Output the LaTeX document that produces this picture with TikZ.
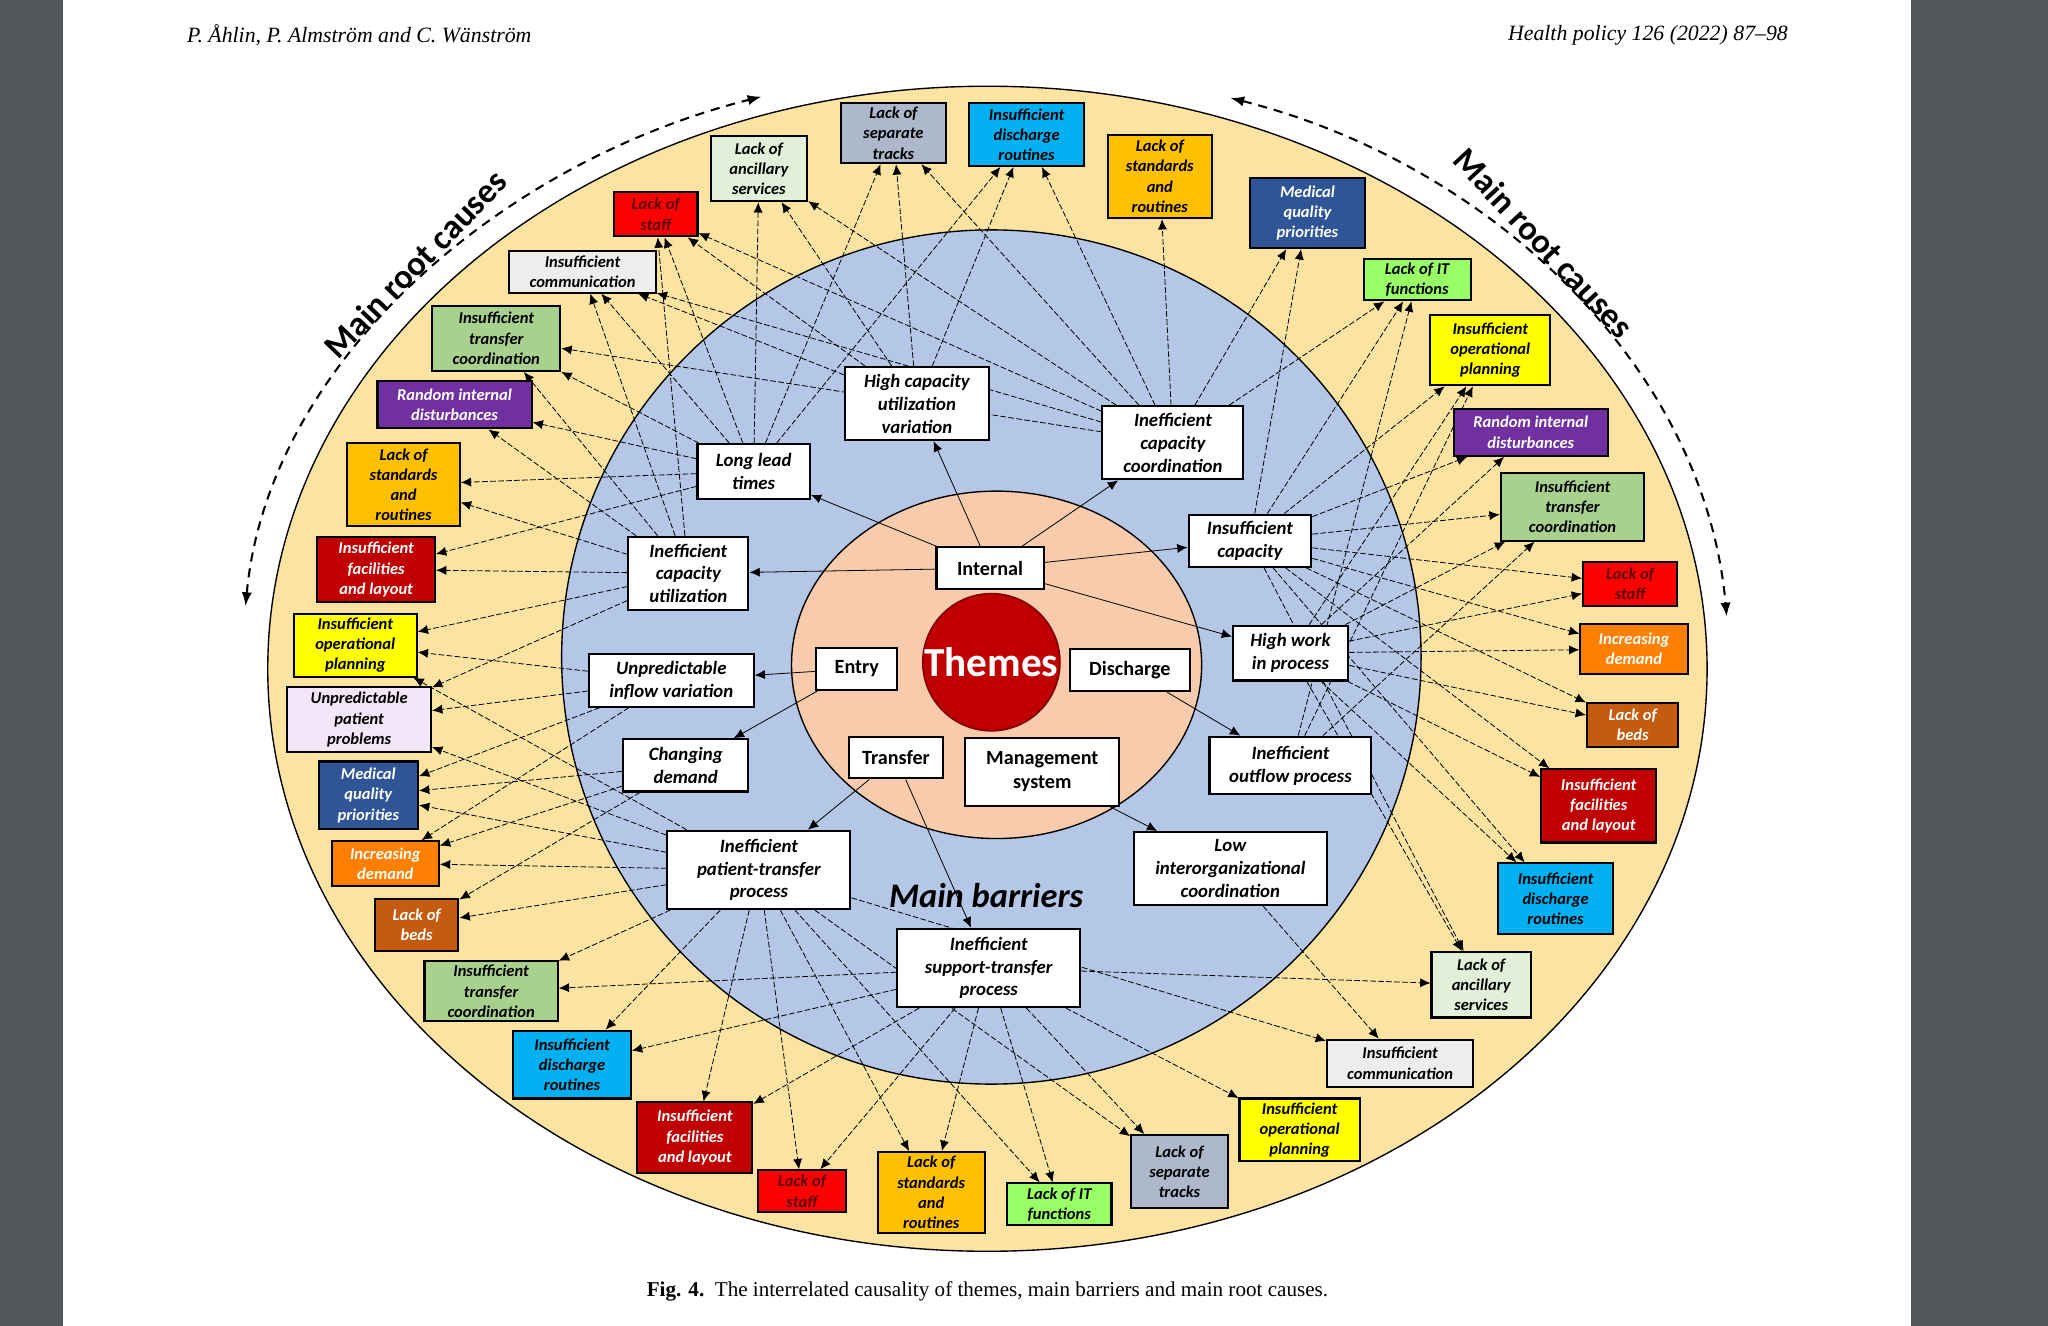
\documentclass[tikz,border=0pt]{standalone}
\usepackage{fontspec}
\setmainfont{Liberation Serif}
\newfontfamily\cf{Carlito}
\usetikzlibrary{arrows.meta}
\pgfdeclarelayer{ell}
\pgfdeclarelayer{edg}
\pgfsetlayers{ell,edg,main}
\definecolor{pagegrey}{HTML}{53575A}
\definecolor{ylw}{HTML}{FCE3A2}
\definecolor{blu}{HTML}{B4C7E7}
\definecolor{pch}{HTML}{F8CBAD}
\definecolor{thr}{HTML}{C00000}
\definecolor{cTr}{HTML}{ADB9CA}
\definecolor{cDi}{HTML}{00B0F0}
\definecolor{cSt}{HTML}{FFC000}
\definecolor{cMq}{HTML}{2F5597}
\definecolor{cIt}{HTML}{99FF66}
\definecolor{cOp}{HTML}{FFFF00}
\definecolor{cRa}{HTML}{7030A0}
\definecolor{cTc}{HTML}{A9D18E}
\definecolor{cLs}{HTML}{FF0000}
\definecolor{cLsT}{HTML}{5A0000}
\definecolor{cId}{HTML}{FF7F00}
\definecolor{cBe}{HTML}{C55A11}
\definecolor{cFa}{HTML}{C00000}
\definecolor{cAn}{HTML}{E2F0D9}
\definecolor{cCo}{HTML}{EDEDED}
\definecolor{cUp}{HTML}{F3E6F8}
\tikzset{
 rc/.style={draw, line width=0.9pt, font=\cf\bfseries\itshape\fontsize{7.2}{8.8}\selectfont, align=center, inner sep=1pt},
 br/.style={draw, fill=white, line width=0.9pt, font=\cf\bfseries\itshape\fontsize{8.2}{10}\selectfont, align=center, inner sep=1pt},
 th/.style={draw, fill=white, line width=0.9pt, font=\cf\bfseries\fontsize{8.8}{10.5}\selectfont, align=center, inner sep=1pt},
 cn/.style={line width=0.35pt, dash pattern=on 2.5pt off 1pt, -{Latex[length=4.5pt,width=4pt]}},
 tn/.style={line width=0.35pt, -{Latex[length=4.5pt,width=4pt]}},
 arc/.style={line width=0.9pt, dash pattern=on 4pt off 3pt, {Latex[length=6pt]}-{Latex[length=6pt]}}
}
\newcommand{\rcn}[8]{\node[rc, fill=#6, text=#7, minimum width=#4*0.02cm, minimum height=#5*0.02cm] (#1) at (#2,#3) {#8};}
\newcommand{\brn}[6]{\node[br, minimum width=#4*0.02cm, minimum height=#5*0.02cm] (#1) at (#2,#3) {#6};}
\begin{document}
\begin{tikzpicture}[x=0.02cm,y=-0.02cm]
\useasboundingbox (0,0) rectangle (1568,1015);
\begin{pgfonlayer}{ell}
\fill[pagegrey] (0,0) rectangle (48,1015);
\fill[pagegrey] (1463,0) rectangle (1568,1015);
\draw[fill=ylw, line width=0.6pt] (756,512) ellipse [x radius=551, y radius=446];
\draw[fill=blu, line width=0.6pt] (759,503) ellipse [x radius=329, y radius=327];
\draw[fill=pch, line width=0.6pt] (763,509) ellipse [x radius=157, y radius=133];
\end{pgfonlayer}
\node[anchor=west, font=\itshape\fontsize{9.5}{11}\selectfont] at (137,27) {P. Åhlin, P. Almström and C. Wänström};
\node[anchor=east, font=\itshape\fontsize{9.5}{11}\selectfont] at (1375,27) {Health policy 126 (2022) 87–98};
\node[font=\fontsize{9.2}{11}\selectfont] at (756,989) {\textbf{Fig. 4.}\enspace The interrelated causality of themes, main barriers and main root causes.};
% arcs
\draw[arc] (188,464) .. controls (205,280) and (380,125) .. (583,74);
\draw[arc] (942,75) .. controls (1140,125) and (1305,280) .. (1322,472);
\node[rotate=46, font=\cf\bfseries\fontsize{15}{17}\selectfont] at (318,202) {Main root causes};
\node[rotate=-47, font=\cf\bfseries\fontsize{15}{17}\selectfont] at (1182,186) {Main root causes};
% themes
\node[circle, fill=thr, draw=thr!70!black, line width=0.8pt, minimum width=104*0.02cm, minimum height=94*0.02cm, inner sep=0pt, text=white, font=\cf\bfseries\fontsize{18}{20}\selectfont] (th) at (759,507) {Themes};
\node[th, minimum width=82*0.02cm, minimum height=32*0.02cm] (tI) at (758,435) {Internal};
\node[th, minimum width=62*0.02cm, minimum height=32*0.02cm] (tE) at (656,512) {Entry};
\node[th, minimum width=92*0.02cm, minimum height=32*0.02cm] (tD) at (865,513) {Discharge};
\node[th, minimum width=72*0.02cm, minimum height=32*0.02cm] (tT) at (686,580) {Transfer};
\node[th, minimum width=118*0.02cm, minimum height=52*0.02cm] (tM) at (798,591) {Management\\system};
\node[font=\cf\bfseries\itshape\fontsize{15}{17}\selectfont] at (755,686) {Main barriers};
% barriers
\brn{b1}{702}{309}{110}{56}{High capacity\\utilization\\variation}
\brn{b2}{898}{339}{108}{56}{Inefficient\\capacity\\coordination}
\brn{b3}{577}{361}{86}{42}{Long lead\\times}
\brn{b4}{957}{414}{94}{40}{Insufficient\\capacity}
\brn{b5}{527}{439}{92}{56}{Inefficient\\capacity\\utilization}
\brn{b6}{988}{500}{88}{42}{High work\\in process}
\brn{b7}{514}{521}{126}{40}{Unpredictable\\inflow variation}
\brn{b8}{525}{586}{96}{40}{Changing\\demand}
\brn{b9}{988}{586}{124}{44}{Inefficient\\outflow process}
\brn{b10}{581}{666}{140}{60}{Inefficient\\patient-transfer\\process}
\brn{b11}{942}{665}{148}{56}{Low\\interorganizational\\coordination}
\brn{b12}{757}{741}{140}{60}{Inefficient\\support-transfer\\process}
% root causes
\rcn{r1}{684}{102}{80}{46}{cTr}{black}{Lack of\\separate\\tracks}
\rcn{r2}{786}{103}{88}{48}{cDi}{black}{Insufficient\\discharge\\routines}
\rcn{r3}{888}{135}{80}{64}{cSt}{black}{Lack of\\standards\\and\\routines}
\rcn{r4}{1001}{163}{88}{54}{cMq}{white}{Medical\\quality\\priorities}
\rcn{r5}{1085}{214}{82}{32}{cIt}{black}{Lack of IT\\functions}
\rcn{r6}{1141}{268}{92}{54}{cOp}{black}{Insufficient\\operational\\planning}
\rcn{r7}{1172}{331}{118}{36}{cRa}{white}{Random internal\\disturbances}
\rcn{r8}{1204}{388}{110}{52}{cTc}{black}{Insufficient\\transfer\\coordination}
\rcn{r9}{1248}{447}{72}{34}{cLs}{cLsT}{Lack of\\staff}
\rcn{r10}{1251}{497}{82}{38}{cId}{white}{Increasing\\demand}
\rcn{r11}{1250}{555}{70}{34}{cBe}{white}{Lack of\\beds}
\rcn{r12}{1224}{617}{88}{56}{cFa}{white}{Insufficient\\facilities\\and layout}
\rcn{r13}{1191}{688}{88}{54}{cDi}{black}{Insufficient\\discharge\\routines}
\rcn{r14}{1134}{754}{76}{50}{cAn}{black}{Lack of\\ancillary\\services}
\rcn{r15}{1072}{814}{112}{36}{cCo}{black}{Insufficient\\communication}
\rcn{r16}{995}{865}{92}{48}{cOp}{black}{Insufficient\\operational\\planning}
\rcn{r17}{903}{897}{74}{56}{cTr}{black}{Lack of\\separate\\tracks}
\rcn{r18}{811}{922}{80}{32}{cIt}{black}{Lack of IT\\functions}
\rcn{r19}{713}{913}{82}{62}{cSt}{black}{Lack of\\standards\\and\\routines}
\rcn{r20}{614}{912}{68}{32}{cLs}{cLsT}{Lack of\\staff}
\rcn{r21}{532}{871}{88}{54}{cFa}{white}{Insufficient\\facilities\\and layout}
\rcn{r22}{438}{815}{90}{52}{cDi}{black}{Insufficient\\discharge\\routines}
\rcn{r23}{376}{759}{102}{46}{cTc}{black}{Insufficient\\transfer\\coordination}
\rcn{r24}{319}{708}{64}{40}{cBe}{white}{Lack of\\beds}
\rcn{r25}{295}{661}{82}{34}{cId}{white}{Increasing\\demand}
\rcn{r26}{282}{609}{76}{52}{cMq}{white}{Medical\\quality\\priorities}
\rcn{r27}{275}{551}{110}{50}{cUp}{black}{Unpredictable\\patient\\problems}
\rcn{r28}{272}{494}{94}{48}{cOp}{black}{Insufficient\\operational\\planning}
\rcn{r29}{288}{436}{90}{50}{cFa}{white}{Insufficient\\facilities\\and layout}
\rcn{r30}{309}{371}{86}{64}{cSt}{black}{Lack of\\standards\\and\\routines}
\rcn{r31}{348}{310}{118}{36}{cRa}{white}{Random internal\\disturbances}
\rcn{r32}{380}{259}{98}{50}{cTc}{black}{Insufficient\\transfer\\coordination}
\rcn{r33}{446}{208}{112}{32}{cCo}{black}{Insufficient\\communication}
\rcn{r34}{502}{164}{64}{34}{cLs}{cLsT}{Lack of\\staff}
\rcn{r35}{581}{129}{74}{50}{cAn}{black}{Lack of\\ancillary\\services}
\begin{pgfonlayer}{edg}
\foreach \a/\b in {tI/b1,tI/b2,tI/b3,tI/b5,tI/b4,tI/b6,tE/b7,tE/b8,tD/b9,tT/b12,tM/b11,tT/b10}
  \draw[tn] (\a) -- (\b);
\foreach \a/\b in {b3/r35,b3/r1,b3/r2,b3/r34,b3/r33,b3/r32,b3/r31,b3/r30,b3/r29,
  b1/r1,b1/r2,b1/r35,b1/r33,b1/r34,
  b2/r3,b2/r4,b2/r5,b2/r2,b2/r1,b2/r34,b2/r33,b2/r35,b2/r32,
  b4/r4,b4/r5,b4/r6,b4/r7,b4/r8,b4/r9,b4/r10,b4/r11,b4/r12,b4/r13,b4/r14,
  b6/r6,b6/r7,b6/r8,b6/r9,b6/r10,b6/r11,b6/r12,b6/r13,b6/r14,
  b9/r8,b9/r6,b9/r5,b11/r15,
  b12/r14,b12/r16,b12/r17,b12/r18,b12/r19,b12/r20,b12/r21,b12/r22,b12/r23,
  b10/r17,b10/r18,b10/r19,b10/r20,b10/r21,b10/r22,b10/r23,b10/r24,b10/r25,b10/r26,b10/r27,b10/r28,b10/r15,
  b5/r34,b5/r33,b5/r32,b5/r31,b5/r30,b5/r29,b5/r28,b5/r27,
  b7/r27,b7/r26,b7/r25,b7/r28,b8/r25,b8/r26,b8/r24}
  \draw[cn] (\a) -- (\b);
\end{pgfonlayer}
\end{tikzpicture}
\end{document}
